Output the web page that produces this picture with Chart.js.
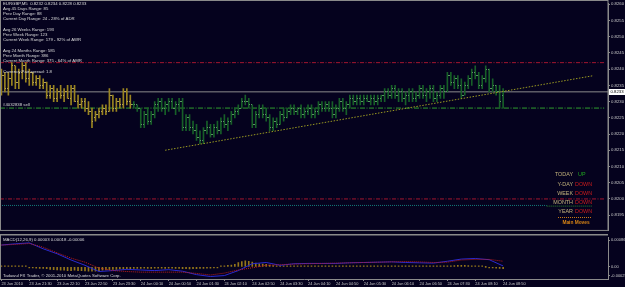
<!DOCTYPE html>
<html>
<head>
<meta charset="utf-8">
<script src="https://cdn.jsdelivr.net/npm/chart.js@4.4.0/dist/chart.umd.min.js"></script>
<style>
html, body { margin: 0; padding: 0; background: #05021e; overflow: hidden; }
#wrap { position: relative; width: 625px; height: 287px; }
canvas { position: absolute; left: 0; }
#main { top: 0; }
#macd { top: 234px; }
</style>
</head>
<body>
<div id="wrap">
  <canvas id="main" width="625" height="234"></canvas>
  <canvas id="macd" width="625" height="53"></canvas>
</div>
<script>
// EURGBP M5, 23 Jun 20:50 .. 24 Jun 08:50 (145 bars)
let opens = [0.8233,0.8238,0.8234,0.8237,0.8241,0.8236,0.8239,0.8241,0.8237,0.8239,
  0.8236,0.8237,0.8235,0.8236,0.8232,0.8234,0.8231,0.8233,0.8232,0.8233,
  0.8231,0.8234,0.8230,0.8229,0.8230,0.8228,0.8227,0.8225,0.8226,0.8227,
  0.8228,0.8227,0.8232,0.8228,0.8230,0.8229,0.8233,0.8230,0.8229,0.8229,
  0.8228,0.8223,0.8226,0.8224,0.8226,0.8229,0.8230,0.8228,0.8229,0.8230,
  0.8228,0.8229,0.8230,0.8222,0.8225,0.8222,0.8221,0.8219,0.8218,0.8221,
  0.8222,0.8220,0.8222,0.8221,0.8224,0.8223,0.8224,0.8226,0.8227,0.8228,
  0.8230,0.8230,0.8229,0.8223,0.8226,0.8228,0.8226,0.8225,0.8222,0.8224,
  0.8223,0.8226,0.8225,0.8227,0.8228,0.8227,0.8228,0.8226,0.8227,0.8228,
  0.8226,0.8227,0.8229,0.8228,0.8229,0.8228,0.8226,0.8228,0.8230,0.8228,
  0.8229,0.8231,0.8230,0.8231,0.8230,0.8231,0.8230,0.8231,0.8230,0.8231,
  0.8232,0.8233,0.8232,0.8234,0.8232,0.8233,0.8231,0.8232,0.8233,0.8231,
  0.8232,0.8234,0.8232,0.8233,0.8234,0.8231,0.8232,0.8234,0.8233,0.8238,
  0.8236,0.8237,0.8235,0.8232,0.8235,0.8237,0.8239,0.8238,0.8235,0.8237,
  0.8240,0.8234,0.8235,0.8233,0.8232];
let highs = [0.8240,0.8239,0.8239,0.8242,0.8241,0.8240,0.8242,0.8242,0.8240,0.8239,
  0.8238,0.8238,0.8237,0.8236,0.8235,0.8235,0.8234,0.8235,0.8234,0.8235,
  0.8235,0.8235,0.8232,0.8231,0.8231,0.8230,0.8228,0.8227,0.8228,0.8229,
  0.8229,0.8234,0.8232,0.8231,0.8231,0.8234,0.8234,0.8232,0.8230,0.8229,
  0.8228,0.8227,0.8228,0.8227,0.8230,0.8231,0.8231,0.8230,0.8231,0.8231,
  0.8230,0.8231,0.8231,0.8226,0.8226,0.8224,0.8223,0.8221,0.8222,0.8224,
  0.8223,0.8223,0.8224,0.8225,0.8226,0.8225,0.8227,0.8228,0.8229,0.8231,
  0.8232,0.8231,0.8229,0.8227,0.8229,0.8229,0.8228,0.8226,0.8225,0.8225,
  0.8227,0.8228,0.8228,0.8229,0.8229,0.8228,0.8229,0.8228,0.8229,0.8229,
  0.8228,0.8230,0.8230,0.8230,0.8230,0.8230,0.8229,0.8231,0.8231,0.8230,
  0.8232,0.8232,0.8232,0.8232,0.8232,0.8232,0.8232,0.8232,0.8232,0.8232,
  0.8234,0.8234,0.8235,0.8235,0.8234,0.8234,0.8233,0.8234,0.8234,0.8233,
  0.8235,0.8235,0.8234,0.8235,0.8235,0.8233,0.8235,0.8235,0.8239,0.8239,
  0.8238,0.8238,0.8237,0.8236,0.8238,0.8240,0.8241,0.8239,0.8238,0.8241,
  0.8240,0.8237,0.8235,0.8235,0.8234];
let lows = [0.8232,0.8233,0.8232,0.8235,0.8234,0.8234,0.8237,0.8236,0.8235,0.8235,
  0.8235,0.8234,0.8234,0.8231,0.8231,0.8230,0.8230,0.8231,0.8230,0.8231,
  0.8229,0.8230,0.8228,0.8228,0.8227,0.8226,0.8222,0.8224,0.8225,0.8226,
  0.8226,0.8227,0.8227,0.8227,0.8228,0.8228,0.8229,0.8228,0.8228,0.8227,
  0.8222,0.8222,0.8223,0.8223,0.8225,0.8227,0.8227,0.8226,0.8227,0.8228,
  0.8226,0.8227,0.8221,0.8221,0.8221,0.8220,0.8218,0.8217,0.8217,0.8220,
  0.8219,0.8219,0.8220,0.8220,0.8222,0.8221,0.8223,0.8225,0.8226,0.8228,
  0.8229,0.8228,0.8222,0.8222,0.8225,0.8225,0.8224,0.8221,0.8221,0.8222,
  0.8223,0.8224,0.8225,0.8226,0.8226,0.8226,0.8225,0.8225,0.8226,0.8225,
  0.8225,0.8226,0.8227,0.8227,0.8227,0.8225,0.8225,0.8227,0.8227,0.8226,
  0.8228,0.8229,0.8229,0.8229,0.8229,0.8230,0.8229,0.8229,0.8229,0.8230,
  0.8230,0.8231,0.8231,0.8231,0.8230,0.8230,0.8229,0.8230,0.8230,0.8230,
  0.8231,0.8231,0.8230,0.8231,0.8230,0.8230,0.8231,0.8231,0.8233,0.8235,
  0.8234,0.8234,0.8231,0.8232,0.8234,0.8235,0.8237,0.8234,0.8234,0.8236,
  0.8233,0.8233,0.8232,0.8228,0.8228];
let closes = [0.8238,0.8234,0.8237,0.8241,0.8236,0.8239,0.8241,0.8237,0.8239,0.8236,
  0.8237,0.8235,0.8236,0.8232,0.8234,0.8231,0.8233,0.8232,0.8233,0.8231,
  0.8234,0.8230,0.8229,0.8230,0.8228,0.8227,0.8224,0.8226,0.8227,0.8228,
  0.8227,0.8232,0.8228,0.8230,0.8229,0.8233,0.8230,0.8229,0.8229,0.8228,
  0.8223,0.8226,0.8224,0.8226,0.8229,0.8230,0.8228,0.8229,0.8230,0.8228,
  0.8229,0.8230,0.8222,0.8225,0.8222,0.8221,0.8219,0.8218,0.8221,0.8222,
  0.8220,0.8222,0.8221,0.8224,0.8223,0.8224,0.8226,0.8227,0.8228,0.8230,
  0.8230,0.8229,0.8223,0.8226,0.8228,0.8226,0.8225,0.8222,0.8224,0.8223,
  0.8226,0.8225,0.8227,0.8228,0.8227,0.8228,0.8226,0.8227,0.8228,0.8226,
  0.8227,0.8229,0.8228,0.8229,0.8228,0.8226,0.8228,0.8230,0.8228,0.8229,
  0.8231,0.8230,0.8231,0.8230,0.8231,0.8230,0.8231,0.8230,0.8231,0.8232,
  0.8233,0.8232,0.8234,0.8232,0.8233,0.8231,0.8232,0.8233,0.8231,0.8232,
  0.8234,0.8232,0.8233,0.8234,0.8231,0.8232,0.8234,0.8233,0.8238,0.8236,
  0.8237,0.8235,0.8232,0.8235,0.8237,0.8239,0.8238,0.8235,0.8237,0.8240,
  0.8234,0.8235,0.8233,0.8230,0.8233];
let firstGreen = 38;

// horizontal objects and trend line
let levelTop = 0.8242;
let levelBid = 0.8233;
let levelSell = 0.8228;
let levelLow = 0.8200;
let levelTeal = 0.8198;
let trendIdx = [47, 170];
let trendVal = [0.8215, 0.8238];

let priceTicks = [0.8195,0.8200,0.8205,0.8210,0.8215,0.8220,0.8225,0.8230,0.8235,0.8240,0.8245,0.8250,0.8255,0.8260];

let timeTickIdx = [0,8,16,24,32,40,48,56,64,72,80,88,96,104,112,120,128,136,144];
let timeLabels = ['23 Jun 2010','23 Jun 21:30','23 Jun 22:10','23 Jun 22:50','23 Jun 23:30',
  '24 Jun 00:10','24 Jun 00:50','24 Jun 01:30','24 Jun 02:10','24 Jun 02:50','24 Jun 03:30',
  '24 Jun 04:10','24 Jun 04:50','24 Jun 05:30','24 Jun 06:10','24 Jun 06:50','24 Jun 07:30',
  '24 Jun 08:10','24 Jun 08:50'];

// MACD panel
let macdIdx = [0,4,8,12,16,20,24,28,32,36,40,44,48,52,56,60,64,68,72,76,80,84,88,92,96,100,104,108,112,116,120,124,128,132,136,140,144];
let macdMain = [0.00070,0.00074,0.00077,0.00058,0.00042,0.00022,0.00005,-0.00015,-0.00012,-0.00008,
  -0.00010,-0.00012,-0.00009,-0.00014,-0.00025,-0.00031,-0.00028,-0.00012,0.00010,0.00014,
  0.00005,0.00010,0.00011,0.00011,0.00011,0.00013,0.00014,0.00015,0.00016,0.00014,
  0.00013,0.00012,0.00018,0.00025,0.00027,0.00023,0.00003];
let macdSignal = [0.00070,0.00072,0.00075,0.00063,0.00045,0.00028,0.00015,-0.00004,-0.00012,-0.00015,
  -0.00017,-0.00017,-0.00017,-0.00017,-0.00021,-0.00026,-0.00020,-0.00010,-0.00003,0.00005,
  0.00007,0.00009,0.00010,0.00011,0.00012,0.00013,0.00014,0.00015,0.00016,0.00017,
  0.00016,0.00014,0.00015,0.00022,0.00024,0.00024,0.00018];
let macdHist = [2,3,3,2,3,3,2,2,
  -2,-3,-4,-5,-5,-6,
  -8,-9,-10,-11,-11,-12,-12,-11,-12,-12,
  -13,-14,-14,-14,-13,
  -11,-10,-9,-8,-8,-7,-7,-6,-6,
  -5,-5,-5,-4,-5,-5,-4,-4,-4,-5,-4,-4,-5,-5,
  -6,-6,-7,-6,-6,-5,-5,-4,-4,-3,-2,
  1,3,5,6,8,
  14,17,19,18,
  15,12,10,9,8,6,
  4,3,2,2,1,1,1,1,1,1,1,1,1,1,1,1,1,1,1,1,1,1,1,1,1,1,1,1,1,1,
  1,1,1,1,1,1,1,1,1,1,1,1,1,1,1,1,1,1,1,1,1,
  3,4,5,5,5,4,3,
  2,1,1,0,-1,-2,
  -4,-5,-6].map(v => v / 100000);
let macdTicks = [0.00086, 0, -0.00029];

let infoLines = [
  ['EURGBP,M5  0.8232 0.8234 0.8228 0.8233', 3.5],
  ['Avg 45 Days Range: 85', 9],
  ['Prev Day Range: 88', 14.3],
  ['Current Day Range: 24 - 28% of ADR', 19.3],
  ['Avg 26 Weeks Range: 193', 29.7],
  ['Prev Week Range: 123', 34.7],
  ['Current Week Range: 179 - 92% of AWR', 40],
  ['Avg 24 Months Range: 585', 50.5],
  ['Prev Month Range: 386', 55.8],
  ['Current Month Range: 375 - 64% of AMR', 61],
  ['Currency Pair spread: 1.8', 71.5]
];
let trendRows = [['TODAY','UP'],['Y-DAY','DOWN'],['WEEK','DOWN'],['MONTH','DOWN'],['YEAR','DOWN']];

let frameCol = '#8a8a8a';
let axisText = '#c8c8c8';
let fontFam = '"Liberation Sans", Arial, sans-serif';
let xMin = -0.4, xMax = 174.1;

Chart.defaults.animation = false;
Chart.defaults.events = [];

function hline(val, from, to, color, dash) {
  return {
    type: 'line', data: [{x: from, y: val}, {x: to, y: val}],
    borderColor: color, borderWidth: 1, borderDash: dash, pointRadius: 0, order: 5
  };
}

let mainOverlay = {
  id: 'mainOverlay',
  afterDatasetsDraw(chart) {
    let ctx = chart.ctx, xs = chart.scales.x, ys = chart.scales.y;
    ctx.save();
    for (let i = 0; i < opens.length; i++) {
      let x = Math.round(xs.getPixelForValue(i) - 0.5);
      ctx.fillStyle = i < firstGreen ? '#b4a25a' : '#5a9462';
      ctx.fillRect(x - 1, Math.round(ys.getPixelForValue(opens[i]) - 0.5), 1, 1);
      ctx.fillRect(x + 1, Math.round(ys.getPixelForValue(closes[i]) - 0.5), 1, 1);
    }
    ctx.restore();
  },
  afterDraw(chart) {
    let ctx = chart.ctx, a = chart.chartArea, ys = chart.scales.y;
    ctx.save();
    ctx.strokeStyle = frameCol;
    ctx.lineWidth = 1;
    ctx.strokeRect(0.5, 0.5, a.right - 0.5, a.bottom - 0.5);
    ctx.font = '4.3px ' + fontFam;
    ctx.textBaseline = 'middle';
    ctx.fillStyle = '#dcdcdc';
    infoLines.forEach(l => ctx.fillText(l[0], 3, l[1]));
    ctx.fillText('#4032838 sell', 3, ys.getPixelForValue(levelSell) - 3);
    // trend table
    ctx.font = '5.4px ' + fontFam;
    trendRows.forEach((r, k) => {
      let y = 175 + k * 9.2;
      ctx.textAlign = 'right';
      ctx.fillStyle = '#c4b47c';
      ctx.fillText(r[0], 573, y);
      ctx.textAlign = 'left';
      ctx.fillStyle = r[1] === 'UP' ? '#1fa81f' : '#cc1c1c';
      ctx.fillText(r[1], r[1] === 'UP' ? 578 : 575, y);
    });
    ctx.strokeStyle = '#c87814';
    ctx.setLineDash([1, 1]);
    ctx.beginPath();
    ctx.moveTo(558, 217.5);
    ctx.lineTo(592, 217.5);
    ctx.stroke();
    ctx.setLineDash([]);
    ctx.font = 'bold 4.8px ' + fontFam;
    ctx.fillStyle = '#d88414';
    ctx.textAlign = 'center';
    ctx.fillText('Main Moves', 576, 222.5);
    // current price box
    let py = ys.getPixelForValue(levelBid);
    ctx.fillStyle = '#ffffff';
    ctx.fillRect(609, Math.round(py) - 3, 16, 6);
    ctx.fillStyle = '#000000';
    ctx.font = '4.3px ' + fontFam;
    ctx.textAlign = 'left';
    ctx.fillText(levelBid.toFixed(4), 610.5, Math.round(py));
    ctx.restore();
  }
};

new Chart(document.getElementById('main'), {
  type: 'bar',
  data: {
    datasets: [
      {
        type: 'bar',
        data: opens.map((o, i) => ({x: i, y: [lows[i], highs[i]]})),
        backgroundColor: c => c.dataIndex < firstGreen ? '#9a8420' : '#175f28',
        borderWidth: 0, barThickness: 1, grouped: false, order: 1
      },
      hline(levelTop, xMin, 173, '#a3162f', [4, 1.5, 1, 1.5]),
      hline(levelBid, xMin, xMax, '#8c8c8c', []),
      hline(levelSell, xMin, 173, '#2e9c2e', [5, 1.5, 1, 1.5]),
      hline(levelLow, xMin, 173, '#a3162f', [4, 1.5, 1, 1.5]),
      hline(levelTeal, xMin, 156.5, '#137a7a', [1, 1]),
      hline(levelTeal - 0.00002, 156.5, 169.5, '#2a8a2a', [1, 1]),
      {
        type: 'line', data: trendIdx.map((v, k) => ({x: v, y: trendVal[k]})),
        borderColor: '#9a9a22', borderWidth: 1, borderDash: [1.5, 1.5], pointRadius: 0, order: 0
      }
    ]
  },
  options: {
    responsive: false,
    layout: {padding: {top: 1, bottom: 1, left: 0, right: 0}},
    plugins: {legend: {display: false}, tooltip: {enabled: false}},
    scales: {
      x: {type: 'linear', display: false, offset: false, min: xMin, max: xMax},
      y: {
        position: 'right', min: 0.81903, max: 0.82602,
        afterBuildTicks: s => { s.ticks = priceTicks.map(v => ({value: v})); },
        afterFit: s => { s.width = 17; },
        ticks: {color: axisText, font: {family: fontFam, size: 4.3}, padding: 1,
          callback: v => v.toFixed(4)},
        grid: {drawOnChartArea: false, color: frameCol, tickLength: 2},
        border: {color: frameCol}
      }
    }
  },
  plugins: [mainOverlay]
});

let macdOverlay = {
  id: 'macdOverlay',
  afterDraw(chart) {
    let ctx = chart.ctx, a = chart.chartArea;
    ctx.save();
    ctx.strokeStyle = frameCol;
    ctx.lineWidth = 1.5;
    ctx.beginPath();
    ctx.moveTo(0, 0.75);
    ctx.lineTo(a.right, 0.75);
    ctx.stroke();
    ctx.lineWidth = 1;
    ctx.beginPath();
    ctx.moveTo(0.5, 0);
    ctx.lineTo(0.5, a.bottom);
    ctx.stroke();
    ctx.font = '4.3px ' + fontFam;
    ctx.textBaseline = 'middle';
    ctx.fillStyle = '#dcdcdc';
    ctx.fillText('MACD(12,26,9) 0.00003 0.00018 -0.00006', 3, 5.5);
    ctx.fillText('Tadawul FX Trader, \u00a9 2001-2010 MetaQuotes Software Corp.', 3, 42);
    ctx.restore();
  }
};

new Chart(document.getElementById('macd'), {
  type: 'bar',
  data: {
    datasets: [
      {
        type: 'bar', data: macdHist.map((v, i) => ({x: i, y: v})),
        backgroundColor: '#94761a', borderWidth: 0, barThickness: 1, minBarLength: 1,
        grouped: false, order: 3
      },
      {
        type: 'line', data: macdIdx.map((v, k) => ({x: v, y: macdMain[k]})),
        borderColor: '#2a2ad0', borderWidth: 1, pointRadius: 0, order: 2
      },
      {
        type: 'line', data: macdIdx.map((v, k) => ({x: v, y: macdSignal[k]})),
        borderColor: '#c01e1e', borderWidth: 1, borderDash: [1, 1], pointRadius: 0, order: 1
      }
    ]
  },
  options: {
    responsive: false,
    layout: {padding: {top: 1, bottom: 0, left: 0, right: 0}},
    plugins: {legend: {display: false}, tooltip: {enabled: false}},
    scales: {
      x: {
        type: 'linear', offset: false, min: xMin, max: xMax,
        afterBuildTicks: s => { s.ticks = timeTickIdx.map(v => ({value: v})); },
        afterFit: s => { s.height = 8; },
        ticks: {color: axisText, font: {family: fontFam, size: 3.9}, padding: 1,
          align: 'start', maxRotation: 0, autoSkip: false,
          callback: v => timeLabels[timeTickIdx.indexOf(v)]},
        grid: {drawOnChartArea: false, offset: false, color: frameCol, tickLength: 2},
        border: {color: frameCol}
      },
      y: {
        position: 'right', min: -0.00039, max: 0.000946,
        afterBuildTicks: s => { s.ticks = macdTicks.map(v => ({value: v})); },
        afterFit: s => { s.width = 17; },
        ticks: {color: axisText, font: {family: fontFam, size: 4}, padding: 1,
          callback: v => v === 0 ? '0.00' : v.toFixed(5)},
        grid: {drawOnChartArea: false, color: frameCol, tickLength: 2},
        border: {color: frameCol}
      }
    }
  },
  plugins: [macdOverlay]
});
</script>
</body>
</html>
